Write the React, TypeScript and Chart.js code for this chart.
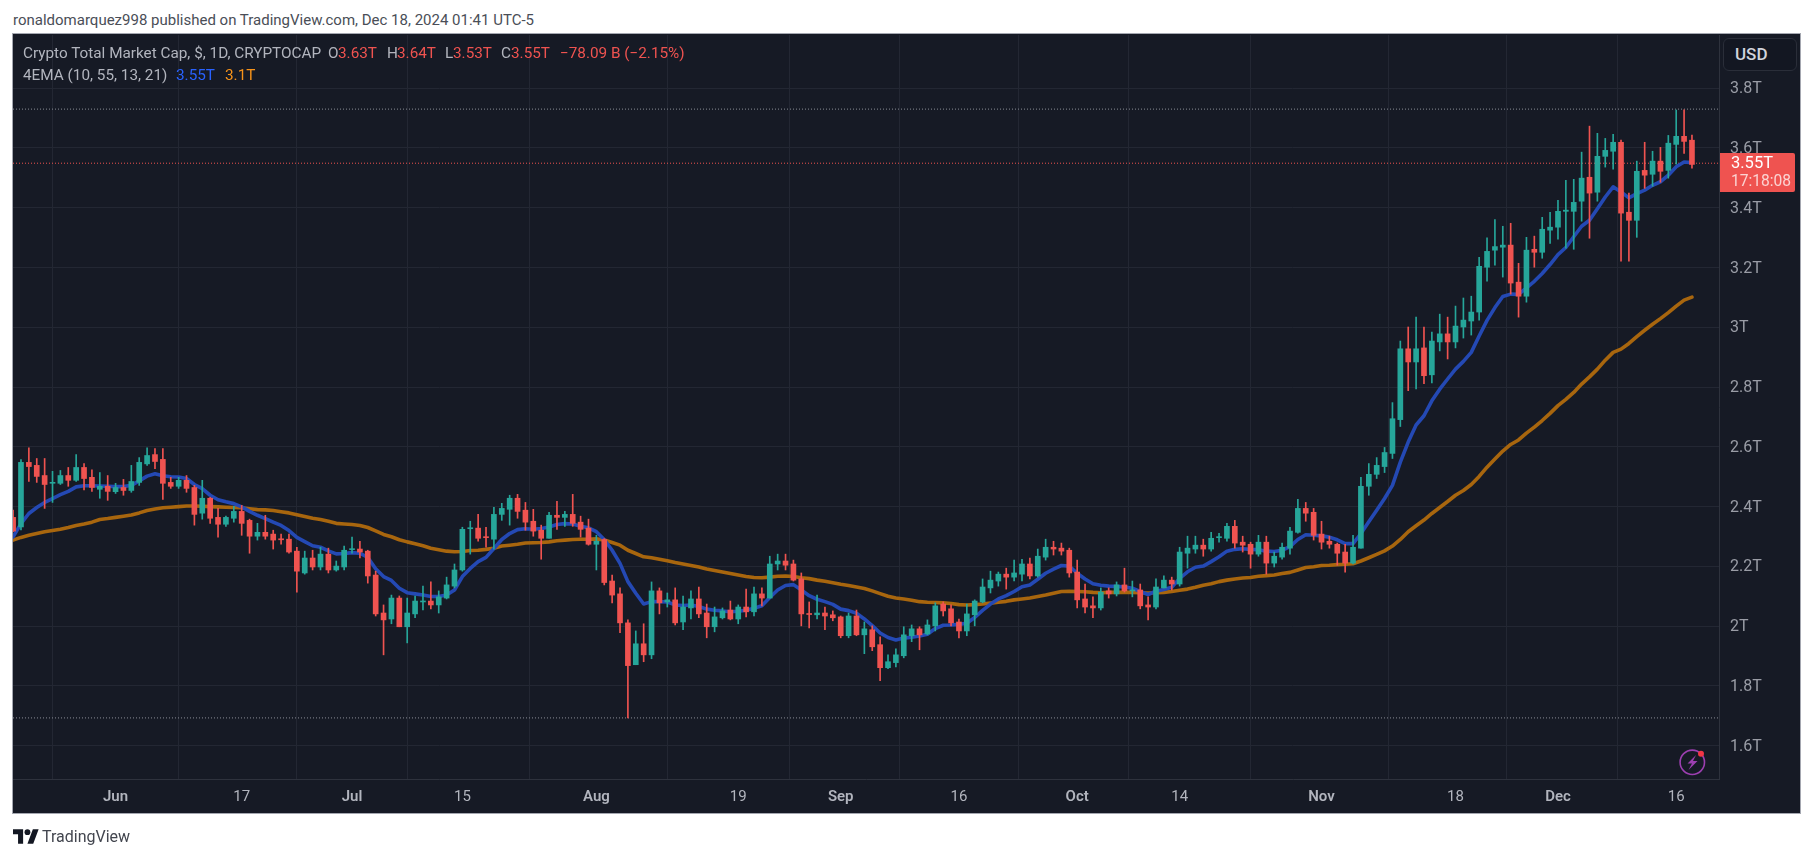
import React, { useEffect, useRef } from "react";
import { Chart, registerables } from "chart.js";

Chart.register(...registerables);

const opens = [
  2.364,2.332,2.548,2.538,2.504,2.478,2.478,2.504,2.488,2.531,
  2.498,2.458,2.468,2.450,2.464,2.454,2.481,2.543,2.574,2.558,
  2.481,2.468,2.488,2.464,2.378,2.428,2.364,2.341,2.361,2.384,
  2.354,2.301,2.314,2.308,2.291,2.291,2.251,2.178,2.228,2.198,
  2.241,2.188,2.198,2.256,2.258,2.251,2.171,2.044,2.024,2.094,
  1.998,2.041,2.081,2.084,2.071,2.094,2.134,2.188,2.326,2.328,
  2.298,2.291,2.374,2.391,2.428,2.388,2.351,2.321,2.294,2.371,
  2.364,2.374,2.348,2.328,2.274,2.290,2.151,2.108,2.011,1.871,
  1.941,1.904,2.118,2.081,2.088,2.014,2.061,2.091,2.044,1.998,
  2.028,2.054,2.024,2.064,2.048,2.108,2.094,2.208,2.218,2.208,
  2.158,2.041,2.038,2.044,2.038,2.031,1.968,2.034,1.971,1.988,
  1.938,1.861,1.878,1.901,1.968,1.991,1.974,2.001,2.074,2.058,
  2.014,1.984,2.038,2.081,2.128,2.151,2.174,2.164,2.174,2.208,
  2.168,2.231,2.264,2.261,2.254,2.181,2.091,2.068,2.061,2.118,
  2.108,2.138,2.118,2.121,2.071,2.064,2.128,2.154,2.141,2.244,
  2.258,2.271,2.258,2.296,2.294,2.334,2.281,2.274,2.241,2.281,
  2.211,2.231,2.261,2.314,2.394,2.381,2.308,2.284,2.274,2.248,
  2.211,2.261,2.468,2.508,2.534,2.578,2.691,2.928,2.884,2.931,
  2.841,2.951,2.978,2.951,3.001,3.021,3.051,3.201,3.258,3.268,
  3.275,3.151,3.104,3.261,3.251,3.325,3.335,3.388,3.388,3.422,
  3.502,3.452,3.572,3.589,3.619,3.385,3.358,3.525,3.512,3.556,
  3.525,3.612,3.639,3.626,
];

const highs = [
  2.388,2.557,2.597,2.561,2.561,2.518,2.521,2.531,2.574,2.544,
  2.523,2.514,2.504,2.478,2.491,2.538,2.564,2.597,2.594,2.594,
  2.498,2.498,2.504,2.471,2.488,2.431,2.394,2.368,2.401,2.404,
  2.358,2.344,2.371,2.321,2.308,2.308,2.264,2.251,2.254,2.264,
  2.261,2.218,2.268,2.298,2.284,2.254,2.184,2.071,2.104,2.101,
  2.094,2.101,2.134,2.148,2.118,2.164,2.208,2.331,2.351,2.374,
  2.331,2.398,2.411,2.438,2.441,2.414,2.391,2.338,2.381,2.418,
  2.384,2.441,2.368,2.358,2.304,2.293,2.171,2.128,2.021,1.984,
  2.008,2.148,2.128,2.111,2.128,2.101,2.118,2.131,2.074,2.064,
  2.061,2.084,2.071,2.124,2.131,2.128,2.234,2.241,2.241,2.221,
  2.178,2.081,2.104,2.064,2.051,2.034,2.044,2.054,2.014,2.001,
  1.964,1.904,1.924,1.998,2.004,1.998,2.021,2.078,2.081,2.071,
  2.024,2.074,2.088,2.158,2.184,2.181,2.194,2.221,2.224,2.228,
  2.258,2.291,2.284,2.278,2.261,2.221,2.141,2.098,2.128,2.128,
  2.148,2.194,2.151,2.141,2.098,2.158,2.168,2.164,2.264,2.301,
  2.301,2.291,2.314,2.311,2.344,2.354,2.301,2.281,2.304,2.301,
  2.248,2.278,2.331,2.424,2.414,2.394,2.351,2.301,2.278,2.274,
  2.304,2.498,2.544,2.564,2.598,2.748,2.954,3.001,3.034,3.001,
  2.984,3.044,3.034,3.071,3.098,3.104,3.234,3.299,3.360,3.338,
  3.348,3.214,3.301,3.305,3.368,3.385,3.425,3.492,3.495,3.586,
  3.673,3.649,3.632,3.646,3.626,3.449,3.556,3.619,3.589,3.602,
  3.642,3.727,3.728,3.643,
];

const lows = [
  2.316,2.322,2.484,2.481,2.394,2.414,2.474,2.468,2.484,2.456,
  2.451,2.428,2.421,2.444,2.438,2.448,2.471,2.538,2.527,2.424,
  2.461,2.461,2.448,2.338,2.358,2.344,2.298,2.334,2.348,2.304,
  2.244,2.288,2.291,2.258,2.274,2.244,2.114,2.174,2.188,2.188,
  2.178,2.184,2.188,2.244,2.228,2.144,2.034,1.904,2.008,1.998,
  1.944,2.028,2.054,2.058,2.044,2.091,2.128,2.184,2.241,2.284,
  2.264,2.258,2.354,2.338,2.361,2.321,2.301,2.224,2.294,2.324,
  2.334,2.334,2.298,2.271,2.188,2.138,2.078,1.978,1.693,1.871,
  1.881,1.891,2.041,2.064,2.004,1.988,2.024,2.028,1.961,1.981,
  2.024,2.021,2.008,2.031,2.034,2.068,2.094,2.188,2.188,2.151,
  2.001,1.994,2.024,1.988,2.018,1.961,1.961,1.968,1.908,1.918,
  1.818,1.858,1.864,1.894,1.948,1.921,1.971,1.984,2.034,2.001,
  1.961,1.968,2.001,2.078,2.111,2.134,2.124,2.151,2.151,2.158,
  2.164,2.221,2.238,2.238,2.164,2.061,2.044,2.028,2.054,2.094,
  2.101,2.114,2.098,2.058,2.021,2.058,2.128,2.121,2.134,2.194,
  2.244,2.234,2.251,2.281,2.284,2.261,2.248,2.194,2.234,2.174,
  2.198,2.224,2.241,2.311,2.351,2.288,2.258,2.261,2.204,2.181,
  2.208,2.261,2.438,2.494,2.514,2.561,2.668,2.788,2.794,2.811,
  2.814,2.921,2.894,2.931,2.964,2.974,3.024,3.154,3.208,3.168,
  3.111,3.034,3.084,3.201,3.231,3.281,3.295,3.265,3.261,3.355,
  3.298,3.422,3.536,3.529,3.221,3.221,3.301,3.465,3.472,3.485,
  3.499,3.546,3.582,3.532,
];

const closes = [
  2.318,2.548,2.534,2.501,2.474,2.481,2.504,2.488,2.531,2.494,
  2.464,2.468,2.451,2.464,2.454,2.484,2.548,2.571,2.551,2.478,
  2.468,2.488,2.461,2.374,2.428,2.361,2.341,2.364,2.384,2.344,
  2.301,2.314,2.301,2.288,2.289,2.248,2.184,2.228,2.198,2.241,
  2.188,2.201,2.254,2.258,2.248,2.168,2.041,2.021,2.094,1.998,
  2.044,2.084,2.084,2.071,2.098,2.138,2.188,2.324,2.328,2.294,
  2.296,2.374,2.394,2.428,2.384,2.348,2.318,2.294,2.371,2.364,
  2.374,2.344,2.324,2.274,2.284,2.146,2.104,2.011,1.868,1.941,
  1.904,2.118,2.078,2.088,2.011,2.064,2.091,2.041,1.998,2.031,
  2.051,2.024,2.064,2.048,2.108,2.094,2.208,2.218,2.204,2.154,
  2.041,2.039,2.044,2.034,2.028,1.968,2.034,1.971,1.991,1.931,
  1.861,1.881,1.904,1.971,1.991,1.971,2.004,2.068,2.051,2.011,
  1.984,2.041,2.084,2.131,2.154,2.174,2.164,2.178,2.208,2.168,
  2.234,2.264,2.258,2.251,2.178,2.088,2.064,2.061,2.114,2.108,
  2.138,2.118,2.121,2.068,2.064,2.131,2.154,2.141,2.248,2.261,
  2.271,2.258,2.294,2.298,2.334,2.278,2.271,2.241,2.281,2.211,
  2.234,2.264,2.318,2.394,2.378,2.304,2.281,2.274,2.244,2.211,
  2.264,2.468,2.508,2.538,2.581,2.694,2.928,2.884,2.928,2.838,
  2.954,2.978,2.951,3.004,3.024,3.051,3.204,3.254,3.270,3.275,
  3.148,3.104,3.258,3.251,3.328,3.335,3.388,3.392,3.418,3.499,
  3.449,3.572,3.592,3.619,3.382,3.358,3.522,3.509,3.556,3.522,
  3.616,3.639,3.622,3.545,
];

const emaFast = [
  2.299,2.343,2.377,2.397,2.414,2.427,2.440,2.451,2.466,2.470,
  2.470,2.469,2.468,2.467,2.467,2.471,2.486,2.502,2.510,2.503,
  2.500,2.499,2.494,2.474,2.460,2.438,2.423,2.416,2.410,2.399,
  2.384,2.371,2.360,2.348,2.337,2.320,2.297,2.283,2.269,2.264,
  2.252,2.242,2.243,2.246,2.244,2.230,2.192,2.166,2.153,2.127,
  2.112,2.108,2.104,2.099,2.099,2.104,2.121,2.166,2.193,2.216,
  2.230,2.260,2.290,2.310,2.323,2.326,2.324,2.327,2.332,2.340,
  2.343,2.342,2.334,2.329,2.316,2.290,2.254,2.210,2.149,2.110,
  2.074,2.082,2.082,2.081,2.071,2.069,2.071,2.066,2.057,2.053,
  2.051,2.048,2.050,2.053,2.060,2.068,2.096,2.121,2.136,2.139,
  2.121,2.102,2.090,2.082,2.073,2.057,2.052,2.043,2.024,2.002,
  1.977,1.962,1.954,1.960,1.963,1.967,1.973,1.992,2.003,2.004,
  2.006,2.010,2.029,2.053,2.074,2.091,2.102,2.116,2.132,2.138,
  2.157,2.177,2.191,2.203,2.201,2.177,2.158,2.142,2.137,2.134,
  2.133,2.131,2.127,2.116,2.106,2.117,2.123,2.130,2.160,2.182,
  2.197,2.201,2.216,2.232,2.251,2.257,2.259,2.257,2.256,2.251,
  2.250,2.254,2.266,2.290,2.306,2.304,2.302,2.298,2.289,2.276,
  2.276,2.310,2.349,2.388,2.427,2.471,2.549,2.616,2.673,2.704,
  2.754,2.793,2.827,2.860,2.886,2.916,2.971,3.023,3.066,3.103,
  3.111,3.110,3.132,3.154,3.180,3.210,3.243,3.267,3.303,3.338,
  3.358,3.397,3.436,3.470,3.453,3.433,3.447,3.459,3.475,3.487,
  3.509,3.537,3.553,3.551,
];

const emaSlow = [
  2.288,2.297,2.304,2.310,2.316,2.320,2.324,2.330,2.337,2.342,
  2.348,2.357,2.360,2.364,2.368,2.372,2.379,2.387,2.392,2.396,
  2.398,2.400,2.402,2.402,2.401,2.400,2.399,2.398,2.397,2.396,
  2.393,2.390,2.389,2.387,2.383,2.379,2.373,2.367,2.361,2.357,
  2.351,2.344,2.342,2.340,2.337,2.330,2.319,2.307,2.299,2.289,
  2.282,2.276,2.269,2.261,2.256,2.251,2.249,2.250,2.253,2.254,
  2.257,2.261,2.268,2.271,2.274,2.278,2.279,2.280,2.282,2.286,
  2.288,2.290,2.291,2.291,2.292,2.288,2.280,2.271,2.254,2.243,
  2.232,2.229,2.224,2.219,2.213,2.208,2.203,2.198,2.191,2.186,
  2.181,2.176,2.171,2.166,2.163,2.162,2.164,2.167,2.168,2.166,
  2.162,2.159,2.154,2.150,2.145,2.140,2.136,2.131,2.126,2.118,
  2.109,2.100,2.094,2.091,2.087,2.082,2.080,2.079,2.078,2.076,
  2.072,2.071,2.072,2.074,2.077,2.080,2.083,2.088,2.091,2.094,
  2.099,2.104,2.110,2.116,2.117,2.116,2.115,2.113,2.112,2.113,
  2.113,2.113,2.113,2.112,2.111,2.112,2.113,2.116,2.120,2.124,
  2.130,2.137,2.142,2.149,2.154,2.158,2.161,2.163,2.167,2.169,
  2.171,2.176,2.180,2.188,2.196,2.199,2.203,2.204,2.206,2.207,
  2.209,2.218,2.229,2.240,2.252,2.268,2.290,2.316,2.336,2.355,
  2.377,2.397,2.417,2.438,2.454,2.474,2.501,2.532,2.559,2.586,
  2.608,2.623,2.646,2.666,2.688,2.712,2.738,2.759,2.782,2.810,
  2.834,2.860,2.890,2.916,2.927,2.946,2.969,2.990,3.010,3.029,
  3.049,3.071,3.091,3.101,
];

const xTickDays = [13, 29, 43, 57, 74, 92, 105, 120, 135, 148, 166, 183, 196, 211];
const xTickLabels = ["Jun", "17", "Jul", "15", "Aug", "19", "Sep", "16", "Oct", "14", "Nov", "18", "Dec", "16"];
const yTickValues = [1.6, 1.8, 2, 2.2, 2.4, 2.6, 2.8, 3, 3.2, 3.4, 3.6, 3.8];
const rangeHigh = 3.73;
const rangeLow = 1.693;
const lastPrice = 3.549;

const UP = "#26a69a";
const DOWN = "#ef5350";
const GRID = "#232733";
const AXIS = "#2e323d";
const TEXT = "#b2b5be";
const FONT = "Roboto, sans-serif";
const X_MIN = -0.013;
const X_MAX = 216.43;

const candleColors = opens.map((o, i) => (closes[i] >= o ? UP : DOWN));

const abs = (left: number, top: number, extra: React.CSSProperties = {}): React.CSSProperties => ({
  position: "absolute",
  left,
  top,
  whiteSpace: "nowrap",
  lineHeight: "1",
  fontFamily: FONT,
  ...extra,
});

export default function App() {
  const ref = useRef<HTMLCanvasElement | null>(null);
  useEffect(() => {
    if (!ref.current) return;
    const hline = (v: number) => [{ x: X_MIN, y: v }, { x: X_MAX, y: v }];
    const chart = new Chart(ref.current, {
      data: {
        datasets: [
          { type: "bar", label: "body", order: 1, grouped: false, barThickness: 5, minBarLength: 1,
            data: opens.map((o, i) => ({ x: i, y: [o, closes[i]] })), backgroundColor: candleColors },
          { type: "bar", label: "wick", order: 2, grouped: false, barThickness: 1,
            data: lows.map((l, i) => ({ x: i, y: [l, highs[i]] })), backgroundColor: candleColors },
          { type: "line", label: "EMA 10", order: 4, data: emaFast.map((y, x) => ({ x, y })),
            borderColor: "#2449b4", borderWidth: 3.6, pointRadius: 0, tension: 0, borderCapStyle: "round", borderJoinStyle: "round" },
          { type: "line", label: "EMA 55", order: 5, data: emaSlow.map((y, x) => ({ x, y })),
            borderColor: "#a8660e", borderWidth: 3.6, pointRadius: 0, tension: 0, borderCapStyle: "round", borderJoinStyle: "round" },
          { type: "line", label: "high", order: 6, data: hline(rangeHigh), borderColor: "#8a8d96",
            borderWidth: 1, borderDash: [1, 2], pointRadius: 0 },
          { type: "line", label: "low", order: 6, data: hline(rangeLow), borderColor: "#8a8d96",
            borderWidth: 1, borderDash: [1, 2], pointRadius: 0 },
          { type: "line", label: "last", order: 6, data: hline(lastPrice), borderColor: DOWN,
            borderWidth: 1, borderDash: [1, 2], pointRadius: 0 },
        ],
      } as any,
      options: {
        animation: false,
        responsive: false,
        maintainAspectRatio: false,
        layout: { padding: { left: 13, top: 35, right: 14, bottom: 45 } },
        plugins: { legend: { display: false }, tooltip: { enabled: false } },
        scales: {
          x: {
            type: "linear",
            min: X_MIN,
            max: X_MAX,
            offset: false,
            grid: { color: GRID, drawTicks: false, lineWidth: 1 },
            border: { color: AXIS },
            afterBuildTicks: (s: any) => { s.ticks = xTickDays.map((value) => ({ value })); },
            afterFit: (s: any) => { s.height = 34; },
            ticks: {
              autoSkip: false,
              maxRotation: 0,
              padding: 9,
              color: TEXT,
              callback: (v: any) => xTickLabels[xTickDays.indexOf(v)],
              font: (c: any) => ({
                family: FONT,
                size: 15,
                weight: /[A-Z]/.test(xTickLabels[xTickDays.indexOf(c.tick?.value)] || "") ? "600" : "400",
              }),
            },
          },
          y: {
            type: "linear",
            position: "right",
            min: 1.4886,
            max: 3.978,
            grid: { color: GRID, drawTicks: false, lineWidth: 1 },
            border: { color: AXIS },
            afterBuildTicks: (s: any) => { s.ticks = yTickValues.map((value) => ({ value })); },
            afterFit: (s: any) => { s.width = 81; },
            ticks: {
              autoSkip: false,
              padding: 11,
              labelOffset: 1,
              color: "#9a9da6",
              font: { family: FONT, size: 16 },
              callback: (v: any) => (Number.isInteger(v) ? `${v}T` : `${Number(v).toFixed(1)}T`),
            },
          },
        },
      },
    } as any);
    return () => chart.destroy();
  }, []);

  const legendSize = 15.3;
  return (
    <div style={{ position: "fixed", left: 0, top: 0, width: 1814, height: 858, background: "#fff", overflow: "hidden" }}>
      <div style={abs(13, 13, { fontSize: 15, color: "#4a4e57" })}>
        ronaldomarquez998 published on TradingView.com, Dec 18, 2024 01:41 UTC-5
      </div>
      <div style={{ position: "absolute", left: 12, top: 33, width: 1787, height: 779, background: "#161a25", border: "1px solid #a4a7b0" }} />
      <canvas ref={ref} width={1814} height={858} style={{ position: "absolute", left: 0, top: 0, width: 1814, height: 858 }} />

      <div style={abs(23, 46, { fontSize: legendSize, color: TEXT })}>Crypto Total Market Cap, $, 1D, CRYPTOCAP</div>
      {[
        ["O", 328, "3.63T", 338],
        ["H", 387, "3.64T", 397],
        ["L", 445, "3.53T", 453],
        ["C", 501, "3.55T", 511],
      ].map(([a, ax, b, bx]) => (
        <React.Fragment key={a as string}>
          <span style={abs(ax as number, 46, { fontSize: legendSize, color: TEXT })}>{a}</span>
          <span style={abs(bx as number, 46, { fontSize: legendSize, color: DOWN })}>{b}</span>
        </React.Fragment>
      ))}
      <span style={abs(560, 46, { fontSize: legendSize, color: DOWN })}>−78.09 B (−2.15%)</span>
      <div style={abs(23, 68, { fontSize: legendSize, color: TEXT })}>4EMA (10, 55, 13, 21)</div>
      <span style={abs(176, 68, { fontSize: legendSize, color: "#2962ff" })}>3.55T</span>
      <span style={abs(225, 68, { fontSize: legendSize, color: "#f7931a" })}>3.1T</span>

      <div style={abs(1723, 38, { width: 74, height: 33, boxSizing: "border-box", background: "#131722", border: "1px solid #2a2e39", borderRadius: 6, color: "#d1d4dc", fontSize: 17, fontWeight: 500, paddingLeft: 11, paddingTop: 7 })}>USD</div>

      <div style={abs(1720, 153, { width: 75, height: 39, background: DOWN, borderRadius: "0 2px 2px 0" })} />
      <div style={abs(1731, 155, { fontSize: 16.5, fontWeight: 400, color: "#fff" })}>3.55T</div>
      <div style={abs(1731, 174, { fontSize: 15.6, fontWeight: 400, color: "#fbd3d2" })}>17:18:08</div>

      <svg style={{ position: "absolute", left: 1678, top: 748 }} width={30} height={30} viewBox="0 0 30 30">
        <circle cx={14.3} cy={14.3} r={12.2} fill="none" stroke="#9c3fb0" strokeWidth={1.6} />
        <path d="M18 7 L9.5 15.5 H14 L10.5 22 L19.5 13 H15 Z" fill="#9c3fb0" />
        <circle cx={23} cy={5.7} r={3} fill="#f23645" />
      </svg>

      <svg style={{ position: "absolute", left: 13, top: 829 }} width={26} height={15} viewBox="0 0 36 20">
        <path d="M14 20H7V7H0V0h14v20zM28 20h-8L27.5 0h8L28 20z" fill="#131722" />
        <circle cx={20} cy={4} r={4} fill="#131722" />
      </svg>
      <div style={abs(42, 829, { fontSize: 16, color: "#43464f" })}>TradingView</div>
    </div>
  );
}
